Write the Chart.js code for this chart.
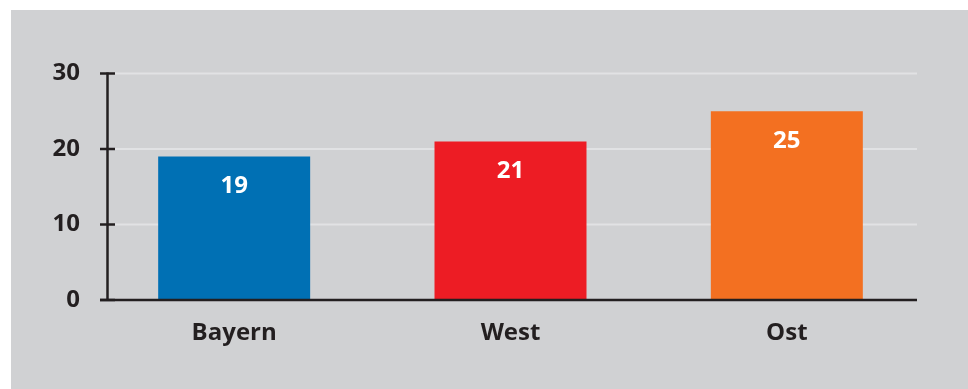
<!DOCTYPE html>
<html>
<head>
<meta charset="utf-8">
<script src="https://cdn.jsdelivr.net/npm/chart.js@4/dist/chart.umd.min.js"></script>
<style>
  html, body { margin: 0; padding: 0; background: #ffffff; }
  #wrap { width: 968px; height: 389px; position: relative; }
</style>
</head>
<body>
<div id="wrap"><canvas id="chart" width="968" height="389"></canvas></div>
<script>
// Daten
const regions = ['Bayern', 'West', 'Ost'];
const values = [19, 21, 25];
const barColors = ['#0070b4', '#ed1c24', '#f37021'];
const yTicks = [0, 10, 20, 30];

const FONT = '"Open Sans", "Noto Sans", sans-serif';
const INK = '#231f20';

// Hintergrund: weisser Rand, graue Flaeche
const backgroundPlugin = {
  id: 'bg',
  beforeDraw(chart) {
    const ctx = chart.ctx;
    ctx.save();
    ctx.fillStyle = '#ffffff';
    ctx.fillRect(0, 0, chart.width, chart.height);
    ctx.fillStyle = '#d0d1d3';
    ctx.fillRect(11, 10, chart.width - 11, chart.height - 10);
    ctx.restore();
  }
};

// Gitterlinien hinter den Balken
const gridPlugin = {
  id: 'grid',
  beforeDatasetsDraw(chart) {
    const { ctx, chartArea, scales } = chart;
    const axisX = chartArea.left + 11.5;
    ctx.save();
    ctx.strokeStyle = '#e1e2e4';
    ctx.lineWidth = 2;
    yTicks.forEach(v => {
      if (v === 0) return;
      const y = scales.y.getPixelForValue(v);
      ctx.beginPath();
      ctx.moveTo(axisX + 7, y);
      ctx.lineTo(chartArea.right - 8, y);
      ctx.stroke();
    });
    ctx.restore();
  }
};

// Achsen, Striche und Werte in den Balken
const axesPlugin = {
  id: 'axes',
  afterDatasetsDraw(chart) {
    const { ctx, chartArea, scales } = chart;
    const axisX = chartArea.left + 11.5;
    const y0 = scales.y.getPixelForValue(0);
    const yTop = scales.y.getPixelForValue(30);
    ctx.save();
    ctx.strokeStyle = INK;
    ctx.lineWidth = 2.5;
    ctx.beginPath();
    ctx.moveTo(axisX, yTop - 1);
    ctx.lineTo(axisX, y0);
    ctx.stroke();
    yTicks.forEach(v => {
      const y = scales.y.getPixelForValue(v);
      ctx.beginPath();
      ctx.moveTo(axisX - 7.5, y);
      ctx.lineTo(axisX + 7.5, y);
      ctx.stroke();
    });
    ctx.beginPath();
    ctx.moveTo(axisX - 7.5, y0);
    ctx.lineTo(chartArea.right - 8, y0);
    ctx.stroke();

    // Werte
    ctx.fillStyle = '#ffffff';
    ctx.font = 'bold 24px ' + FONT;
    ctx.textAlign = 'center';
    ctx.textBaseline = 'middle';
    chart.getDatasetMeta(0).data.forEach((bar, i) => {
      ctx.fillText(String(values[i]), bar.x, bar.y + 30);
    });
    ctx.restore();
  }
};

new Chart(document.getElementById('chart'), {
  type: 'bar',
  data: {
    labels: regions,
    datasets: [{
      data: values,
      backgroundColor: barColors,
      borderWidth: 0,
      categoryPercentage: 1,
      barPercentage: 0.55
    }]
  },
  options: {
    responsive: false,
    animation: false,
    devicePixelRatio: 1,
    layout: { padding: { left: 0, right: 43, top: 73.5, bottom: 0 } },
    plugins: {
      legend: { display: false },
      tooltip: { enabled: false }
    },
    scales: {
      y: {
        min: 0,
        max: 30,
        afterFit(scale) { scale.width = 96; },
        afterBuildTicks(scale) { scale.ticks = yTicks.map(v => ({ value: v })); },
        grid: { display: false, drawTicks: false },
        border: { display: false },
        ticks: {
          padding: 16,
          color: INK,
          font: { family: FONT, size: 24, weight: 'bold' }
        }
      },
      x: {
        afterFit(scale) { scale.height = 89; },
        grid: { display: false, drawTicks: false },
        border: { display: false },
        ticks: {
          padding: 19,
          color: INK,
          font: { family: FONT, size: 24, weight: 'bold' }
        }
      }
    }
  },
  plugins: [backgroundPlugin, gridPlugin, axesPlugin]
});
</script>
</body>
</html>
